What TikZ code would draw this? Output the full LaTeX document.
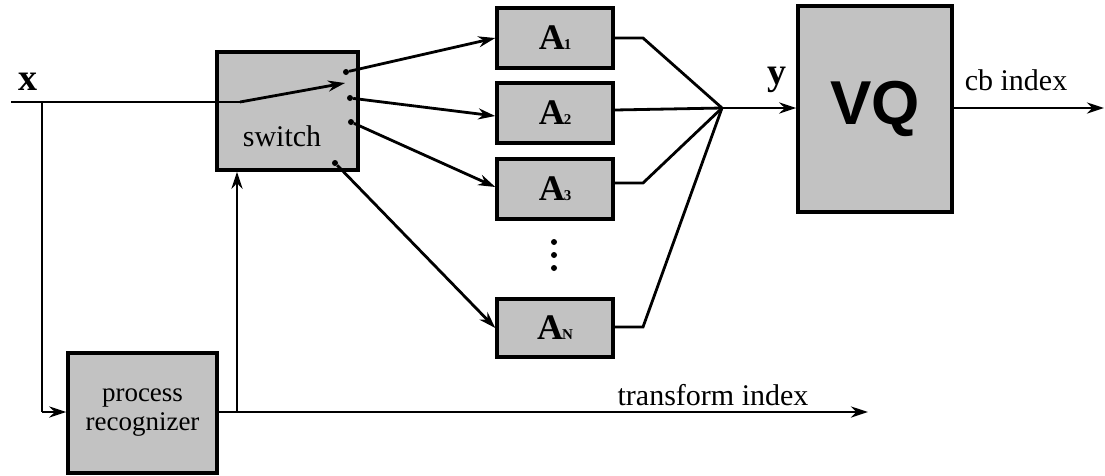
\documentclass[tikz,border=0pt]{standalone}
\usepackage{fontspec}
\setmainfont{Liberation Serif}
\newfontfamily\vqfont{Liberation Sans}
\usetikzlibrary{arrows.meta,calc}
\tikzset{
  blk/.style={draw=black, line width=3.4pt, fill=black!24, inner sep=0pt},
  wire/.style={line width=2.8pt},
  arr/.style={wire, -{Stealth[length=17pt,width=11pt]}},
  term/.style={circle, fill=black, inner sep=0pt, minimum size=6pt},
  lbl/.style={font=\fontsize{30}{32}\selectfont},
  sublbl/.style={font=\fontsize{36}{36}\selectfont\bfseries}
}
\newcommand{\Asub}[1]{A\kern-1pt{\fontsize{15}{15}\selectfont\bfseries #1}}
\begin{document}
\begin{tikzpicture}[x=1pt,y=-1pt]
\useasboundingbox (0,0) rectangle (1105,475);

% blocks
\node[blk, minimum width=141pt, minimum height=118pt] (sw) at (287.5,111) {};
\node[lbl, font=\fontsize{30}{32}\selectfont] at (282,136) {switch};
\node[blk, minimum width=116pt, minimum height=60pt, sublbl] (A1) at (555,38) {\Asub{1}};
\node[blk, minimum width=116pt, minimum height=60pt, sublbl] (A2) at (555,113) {\Asub{2}};
\node[blk, minimum width=116pt, minimum height=60pt, sublbl] (A3) at (555,189) {\Asub{3}};
\node[blk, minimum width=116pt, minimum height=58pt, sublbl] (AN) at (555,328) {\Asub{N}};
\node[blk, minimum width=154pt, minimum height=206pt, font=\vqfont\bfseries\fontsize{62}{62}\selectfont] (vq) at (875,109) {VQ};
\node[blk, minimum width=149pt, minimum height=120pt, align=center,
      font=\fontsize{27}{29}\selectfont] (pr) at (142.5,413) {process\\recognizer};

% vertical ellipsis
\foreach \yy in {242,255,268} \fill (554,\yy) circle (3pt);

% switch terminals
\coordinate (cin) at (240,102);
\node[term] (t1) at (346,72) {};
\node[term] (t2) at (350,98) {};
\node[term] (t3) at (351,122) {};
\node[term] (t4) at (335,163) {};
\coordinate (ctip) at (345,83);

% input x
\coordinate (xs) at (11,102);
\coordinate (xtap) at (42,102);
\coordinate (xdown) at (42,412);
\node[font=\fontsize{38}{38}\selectfont\bfseries] (xl) at (28,82) {x};
\draw[wire] (xs) -- (cin);
\draw[arr] (cin) -- (ctip);
\draw[wire] (xtap) -- (xdown);
\draw[arr] (xdown) -- (pr.west |- xdown);

% switch to transforms
\draw[arr] (t1) -- (A1.west);
\draw[arr] (t2) -- ($(A2.west)+(0,3)$);
\draw[arr] (t3) -- ($(A3.west)+(0,-2)$);
\draw[arr] (t4) -- (AN.west);

% transforms to summing point
\coordinate (J) at (722,108);
\coordinate (b1) at (643,38);
\coordinate (b3) at (643,183);
\coordinate (bN) at (643,327);
\draw[wire] (A1.east) -- (b1) -- (J);
\draw[wire] ($(A2.east)+(0,-3)$) -- (J);
\draw[wire] ($(A3.east)+(0,-6)$) -- (b3) -- (J);
\draw[wire] ($(AN.east)+(0,-1)$) -- (bN) -- (J);
\draw[arr] (J) -- (J -| vq.west);
\node[font=\fontsize{38}{38}\selectfont\bfseries] (yl) at (777,80) {y};

% codebook index output
\coordinate (cbend) at (1104,108);
\draw[arr] (vq.east |- cbend) -- (cbend);
\node[lbl] (cbl) at (1016,80) {cb index};

% transform index output and switch control
\coordinate (tiend) at (868,412);
\coordinate (tap) at (237,412);
\draw[arr] (pr.east |- tiend) -- (tiend);
\draw[arr] (tap) -- (tap |- sw.south);
\node[lbl] (til) at (713,395) {transform index};
\end{tikzpicture}
\end{document}
